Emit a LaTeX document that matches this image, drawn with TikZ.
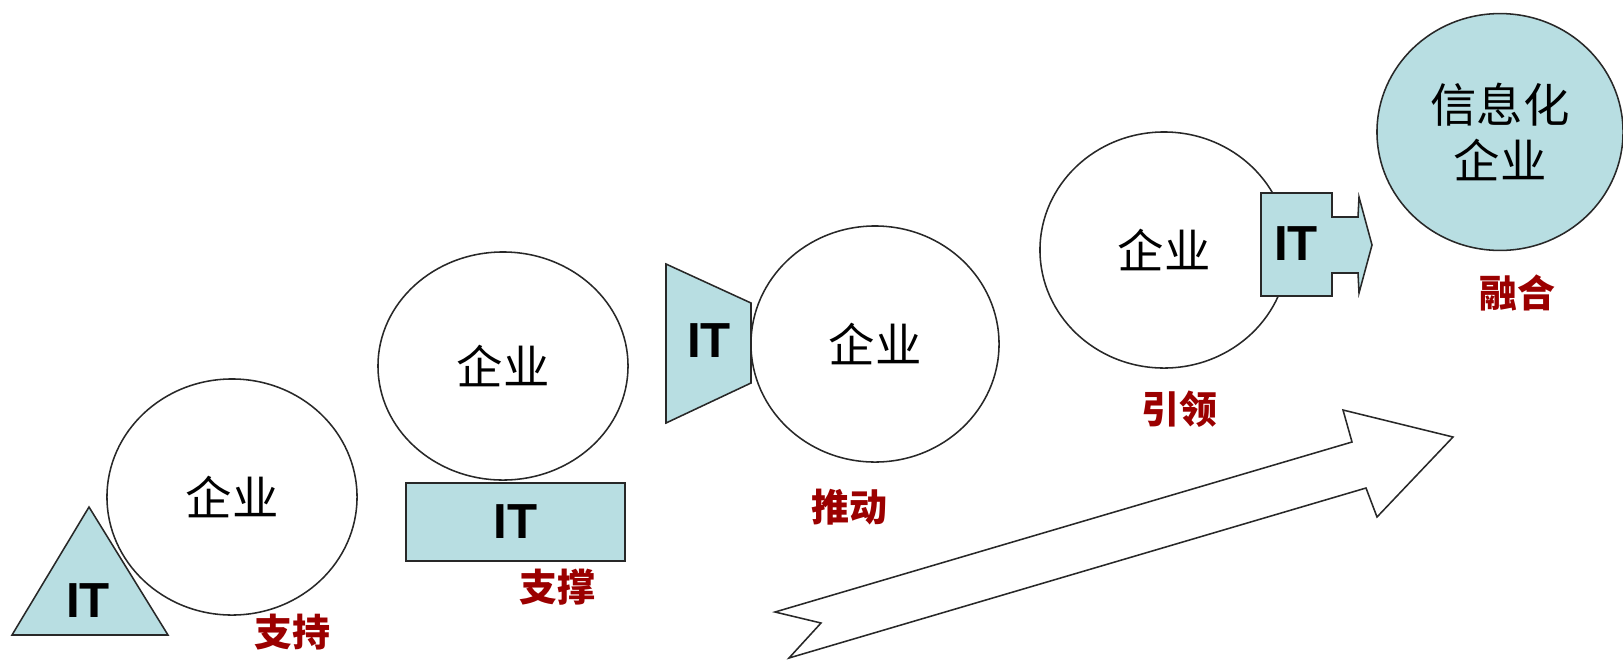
\documentclass[tikz,border=0pt]{standalone}
\usepackage{fontspec}
\setmainfont{Liberation Sans}
\newfontfamily\cjk{Noto Sans CJK SC}
\usetikzlibrary{shapes.geometric}
\definecolor{itfill}{RGB}{184,222,226}
\definecolor{lblred}{RGB}{155,0,0}
\definecolor{edge}{RGB}{40,40,40}
\tikzset{
  ent/.style={ellipse, draw=edge, line width=1.1pt, inner sep=0pt,
    font=\cjk\fontsize{33}{40}\selectfont, align=center},
  itshape/.style={draw=edge, line width=1.1pt, fill=itfill},
  ittext/.style={font=\fontsize{35}{40}\selectfont\bfseries, inner sep=0pt},
  lbl/.style={font=\cjk\bfseries\fontsize{27}{30}\selectfont, text=lblred, inner sep=0pt},
  bigarrow/.style={draw=edge, line width=1.1pt, fill=white, line join=miter}
}
\begin{document}
\begin{tikzpicture}[x=0.025cm, y=-0.025cm]
\useasboundingbox (0,0) rectangle (1623,660);
% stage 1: support
\path[itshape] (89,507) -- (168,635) -- (12,635) -- cycle;
\node[ittext] (it1) at (88,601) {IT};
\node[ent, minimum width=6.25cm, minimum height=5.9cm] (c1) at (232,497) {企业};
\node[lbl] (l1) at (292,632) {支持};
% stage 2
\node[ent, minimum width=6.25cm, minimum height=5.7cm] (c2) at (503,366) {企业};
\node[itshape, ittext, minimum width=5.475cm, minimum height=1.95cm] (it2) at (515.5,522) {IT};
\node[lbl] (l2) at (557,587) {支撑};
% stage 3
\path[itshape] (666,264) -- (751,303) -- (751,383) -- (666,423) -- cycle;
\node[ittext] (it3) at (709,341) {IT};
\node[ent, minimum width=6.2cm, minimum height=5.9cm] (c3) at (875,344) {企业};
\node[lbl] (l3) at (849,507) {推动};
% stage 4
\node[ent, minimum width=6.2cm, minimum height=5.9cm] (c4) at (1164,250) {企业};
\path[itshape] (1261,193) -- (1332,193) -- (1332,217) -- (1358,217) -- (1359,197)
  -- (1372,245) -- (1359,293) -- (1358,273) -- (1332,273) -- (1332,296)
  -- (1261,296) -- cycle;
\node[ittext] (it4) at (1296,244) {IT};
\node[lbl] (l4) at (1179,409) {引领};
% stage 5
\node[ent, fill=itfill, minimum width=6.15cm, minimum height=5.92cm] (c5) at (1500,132) {信息化\\企业};
\node[lbl] (l5) at (1517,293) {融合};
% big arrow
\path[bigarrow] (775,612) -- (1352,442) -- (1343,410) -- (1453,437) -- (1377,517)
  -- (1366,488) -- (789,658) -- (821,623) -- cycle;
\end{tikzpicture}
\end{document}
